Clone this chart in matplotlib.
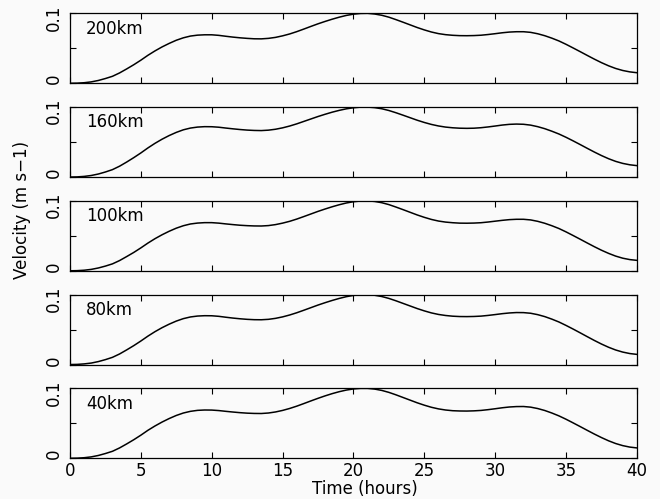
import numpy as np
import matplotlib.pyplot as plt
from matplotlib.transforms import ScaledTranslation

plt.rcParams['font.family'] = 'DejaVu Sans'

# time axis (hours), sampled every half hour
hours = np.arange(0, 40.5, 0.5)

# velocity traces (m/s) at each distance
v200 = [0.0000, 0.0002, 0.0008, 0.0020, 0.0040, 0.0068, 0.0100, 0.0148, 0.0205, 0.0265,
        0.0330, 0.0400, 0.0463, 0.0520, 0.0570, 0.0615, 0.0650, 0.0675, 0.0688, 0.0693,
        0.0693, 0.0685, 0.0672, 0.0660, 0.0650, 0.0642, 0.0636, 0.0635, 0.0642, 0.0656,
        0.0678, 0.0705, 0.0738, 0.0775, 0.0813, 0.0850, 0.0884, 0.0916, 0.0945, 0.0970,
        0.0988, 0.0998, 0.1000, 0.0990, 0.0972, 0.0945, 0.0910, 0.0873, 0.0835, 0.0797,
        0.0763, 0.0733, 0.0710, 0.0695, 0.0686, 0.0681, 0.0680, 0.0682, 0.0687, 0.0697,
        0.0709, 0.0722, 0.0732, 0.0737, 0.0737, 0.0728, 0.0708, 0.0680, 0.0645, 0.0605,
        0.0557, 0.0505, 0.0452, 0.0398, 0.0345, 0.0295, 0.0250, 0.0212, 0.0183, 0.0163,
        0.0151]
v160 = [0.0000, 0.0002, 0.0009, 0.0022, 0.0043, 0.0072, 0.0106, 0.0155, 0.0214, 0.0277,
        0.0344, 0.0416, 0.0482, 0.0541, 0.0593, 0.0638, 0.0675, 0.0700, 0.0714, 0.0720,
        0.0719, 0.0712, 0.0700, 0.0689, 0.0679, 0.0671, 0.0666, 0.0664, 0.0670, 0.0683,
        0.0703, 0.0729, 0.0760, 0.0795, 0.0830, 0.0865, 0.0897, 0.0927, 0.0953, 0.0975,
        0.0990, 0.0999, 0.1000, 0.0992, 0.0976, 0.0951, 0.0919, 0.0884, 0.0848, 0.0812,
        0.0780, 0.0752, 0.0730, 0.0714, 0.0704, 0.0698, 0.0696, 0.0698, 0.0705, 0.0716,
        0.0729, 0.0743, 0.0753, 0.0757, 0.0754, 0.0742, 0.0720, 0.0691, 0.0655, 0.0615,
        0.0568, 0.0517, 0.0464, 0.0410, 0.0357, 0.0307, 0.0262, 0.0224, 0.0195, 0.0175,
        0.0163]
v100 = [0.0000, 0.0002, 0.0008, 0.0020, 0.0040, 0.0067, 0.0099, 0.0146, 0.0203, 0.0262,
        0.0327, 0.0396, 0.0459, 0.0515, 0.0565, 0.0609, 0.0644, 0.0669, 0.0682, 0.0688,
        0.0688, 0.0681, 0.0670, 0.0660, 0.0651, 0.0645, 0.0641, 0.0640, 0.0646, 0.0660,
        0.0681, 0.0707, 0.0739, 0.0775, 0.0812, 0.0849, 0.0883, 0.0915, 0.0944, 0.0969,
        0.0987, 0.0997, 0.1000, 0.0991, 0.0973, 0.0946, 0.0911, 0.0874, 0.0836, 0.0798,
        0.0764, 0.0734, 0.0711, 0.0696, 0.0687, 0.0681, 0.0680, 0.0682, 0.0687, 0.0697,
        0.0709, 0.0721, 0.0731, 0.0736, 0.0736, 0.0727, 0.0707, 0.0679, 0.0644, 0.0604,
        0.0556, 0.0504, 0.0451, 0.0397, 0.0344, 0.0294, 0.0249, 0.0210, 0.0180, 0.0160,
        0.0149]
v80 = [0.0000, 0.0002, 0.0009, 0.0021, 0.0042, 0.0070, 0.0103, 0.0151, 0.0209, 0.0270,
       0.0336, 0.0406, 0.0470, 0.0527, 0.0577, 0.0621, 0.0656, 0.0680, 0.0693, 0.0698,
       0.0697, 0.0689, 0.0676, 0.0664, 0.0654, 0.0646, 0.0641, 0.0640, 0.0646, 0.0660,
       0.0681, 0.0708, 0.0740, 0.0776, 0.0813, 0.0850, 0.0884, 0.0916, 0.0945, 0.0970,
       0.0988, 0.0998, 0.1000, 0.0990, 0.0972, 0.0945, 0.0911, 0.0874, 0.0837, 0.0800,
       0.0767, 0.0738, 0.0716, 0.0701, 0.0691, 0.0686, 0.0685, 0.0687, 0.0692, 0.0702,
       0.0714, 0.0727, 0.0737, 0.0743, 0.0742, 0.0733, 0.0713, 0.0685, 0.0649, 0.0608,
       0.0559, 0.0507, 0.0453, 0.0398, 0.0344, 0.0293, 0.0247, 0.0208, 0.0178, 0.0157,
       0.0145]
v40 = [0.0000, 0.0002, 0.0008, 0.0020, 0.0040, 0.0068, 0.0100, 0.0148, 0.0205, 0.0265,
       0.0330, 0.0400, 0.0462, 0.0518, 0.0568, 0.0612, 0.0647, 0.0671, 0.0685, 0.0690,
       0.0689, 0.0682, 0.0671, 0.0661, 0.0652, 0.0645, 0.0641, 0.0640, 0.0647, 0.0662,
       0.0684, 0.0712, 0.0745, 0.0782, 0.0820, 0.0857, 0.0892, 0.0924, 0.0952, 0.0975,
       0.0991, 0.0999, 0.0999, 0.0989, 0.0970, 0.0942, 0.0907, 0.0869, 0.0831, 0.0793,
       0.0759, 0.0729, 0.0706, 0.0690, 0.0680, 0.0676, 0.0675, 0.0678, 0.0684, 0.0695,
       0.0708, 0.0722, 0.0733, 0.0739, 0.0740, 0.0731, 0.0711, 0.0683, 0.0647, 0.0606,
       0.0558, 0.0506, 0.0453, 0.0399, 0.0346, 0.0296, 0.0250, 0.0211, 0.0181, 0.0160,
       0.0148]

series = [v200, v160, v100, v80, v40]
labels = ['200km', '160km', '100km', '80km', '40km']
xticks = [0, 5, 10, 15, 20, 25, 30, 35, 40]


def plot_panels():
    fig, axes = plt.subplots(5, 1, figsize=(6.6, 4.99), dpi=100, sharex=True)
    fig.patch.set_facecolor('#fafafa')
    plt.subplots_adjust(left=0.106, right=0.965, top=0.9733, bottom=0.0816,
                        hspace=0.34)

    for ax, vel, name in zip(axes, series, labels):
        ax.set_facecolor('#fafafa')
        ax.plot(hours, vel, color='black', lw=1.1)
        ax.set_xlim(0, 40)
        ax.set_ylim(0, 0.1)
        ax.set_xticks(xticks)
        ax.set_yticks([0, 0.05, 0.1])
        ax.tick_params(direction='in', top=True, right=True, length=4,
                       width=0.8, labelsize=12)
        ax.tick_params(axis='y', pad=5)
        ax.tick_params(axis='x', pad=2.5)
        ax.set_yticklabels(['0', '', '0.1'], rotation=90, va='center')
        # nudge the rotated y labels a little inside the panel
        ylabs = ax.get_yticklabels()
        for lab, dy in zip(ylabs, [3 / 72, 0, -3 / 72]):
            lab.set_transform(lab.get_transform() +
                              ScaledTranslation(0, dy, fig.dpi_scale_trans))
        for sp in ax.spines.values():
            sp.set_linewidth(0.9)
        ax.text(0.028, 0.71, name, transform=ax.transAxes, fontsize=12,
                va='baseline', ha='left')

    axes[-1].set_xticklabels([str(t) for t in xticks])

    fig.text(0.0326, 0.579, 'Velocity (m s\u22121)', rotation=90,
             ha='center', va='center', fontsize=12)
    fig.text(0.553, 1 - 479.5 / 499, 'Time (hours)', ha='center', va='top',
             fontsize=12)

    fig.savefig('out.png', dpi=100, facecolor=fig.get_facecolor())


plot_panels()
